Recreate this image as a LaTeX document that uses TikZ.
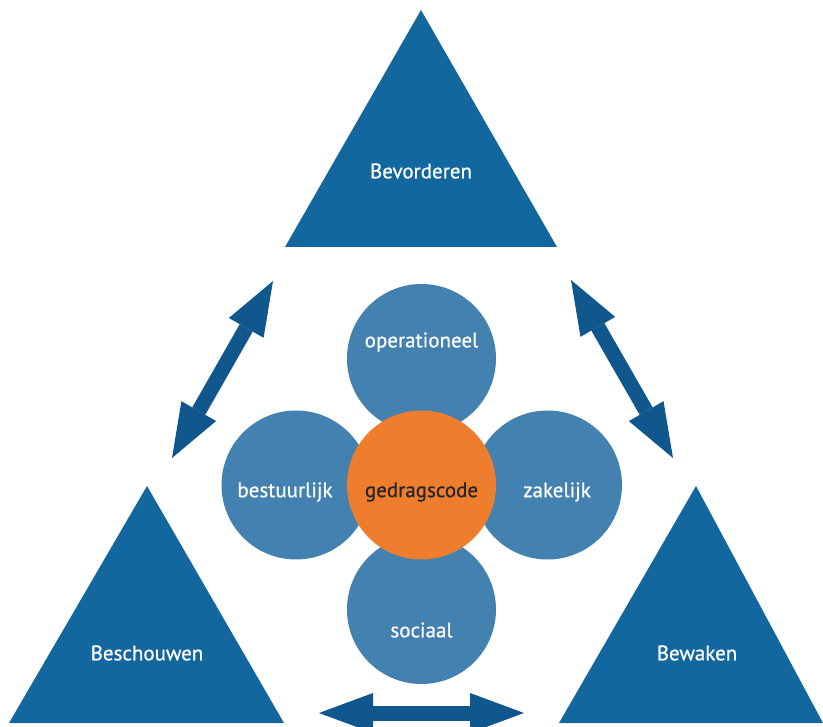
\documentclass[tikz,border=0pt]{standalone}
\usepackage{fontspec}
\setmainfont{PT Sans}
\newfontfamily\halfvet{PT Sans}[FakeBold=0.6]
\usetikzlibrary{arrows.meta}

\definecolor{tri}{HTML}{13679F}
\definecolor{arr}{HTML}{10578E}
\definecolor{bol}{HTML}{4281B0}
\definecolor{oranje}{HTML}{EE7D2D}

\tikzset{
  txt/.style={text=white,font=\halfvet\fontsize{21}{24}\selectfont},
  bol/.style={fill=bol},
  pijl/.style={draw=arr,line width=15pt,
    {Triangle[length=54pt,width=40pt,line width=0pt]}-{Triangle[length=54pt,width=40pt,line width=0pt]}}
}

\begin{document}
\begin{tikzpicture}[x=1pt,y=-1pt]
\useasboundingbox (0,0) rectangle (823,727);
% three triangles
\fill[tri] (285,247) -- (557,247) -- (421,10) -- cycle;
\fill[tri] (9,723) -- (284,723) -- (147,486) -- cycle;
\fill[tri] (559,723) -- (823,723) -- (696,486) -- cycle;
\node[txt] (bevorderen) at (421,171) {Bevorderen};
\node[txt] (beschouwen) at (147,653) {Beschouwen};
\node[txt] (bewaken) at (697,653) {Bewaken};

% four circles round the code
\fill[bol] (421.5,358.5) circle[radius=74.5];
\fill[bol] (296,485) circle[radius=74.5];
\fill[bol] (547.5,485) circle[radius=74.5];
\fill[bol] (421.5,609.5) circle[radius=74.5];
\fill[oranje] (421.5,485) circle[radius=74.5];
\node[txt] (operationeel) at (421.5,342) {operationeel};
\node[txt] (bestuurlijk) at (285,492) {bestuurlijk};
\node[txt] (zakelijk) at (557,492) {zakelijk};
\node[txt] (sociaal) at (421.5,630) {sociaal};
\node[txt,text=black!85] (gedragscode) at (421.5,492) {gedragscode};

% arrows between the triangles
\coordinate (a1) at (273,281);
\coordinate (a2) at (172,458);
\coordinate (b1) at (571,280);
\coordinate (b2) at (673,458);
\coordinate (c1) at (319,713);
\coordinate (c2) at (524,713);
\draw[pijl] (a1) -- (a2);
\draw[pijl] (b1) -- (b2);
\draw[pijl] (c1) -- (c2);
\end{tikzpicture}
\end{document}
